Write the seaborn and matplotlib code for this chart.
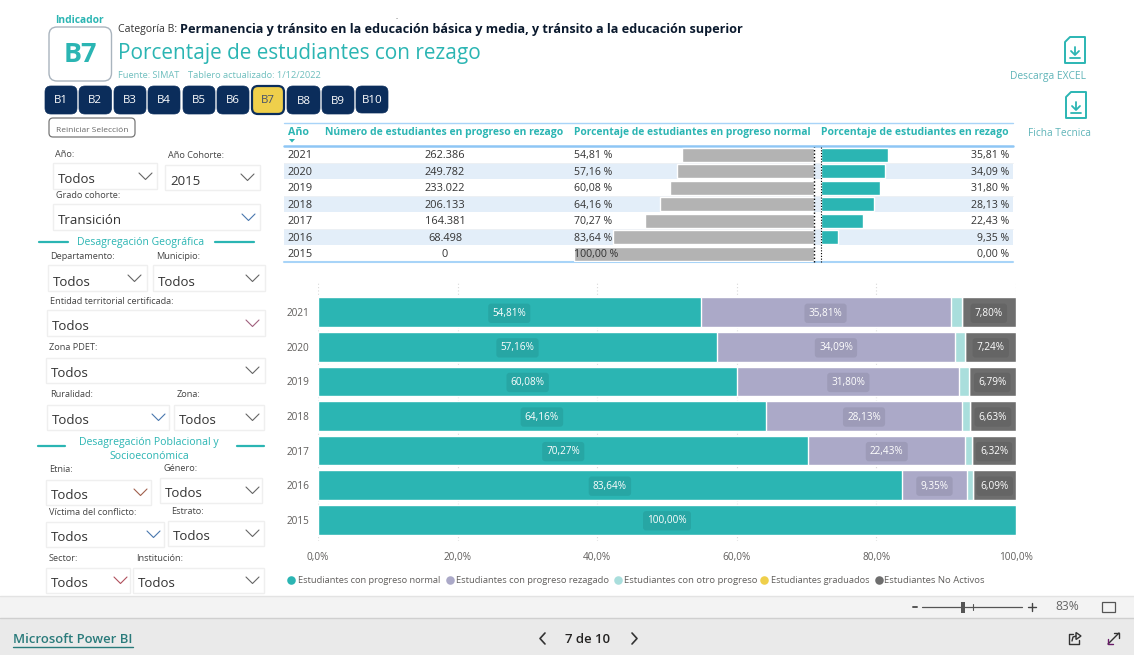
import matplotlib
matplotlib.use("Agg")
import matplotlib.pyplot as plt
from matplotlib.patches import FancyBboxPatch, Rectangle, Polygon
from matplotlib.ticker import FuncFormatter
import seaborn as sns
import pandas as pd

W, H = 1134, 655

# ---------- data ----------
years = ["2021", "2020", "2019", "2018", "2017", "2016", "2015"]
normal = [54.81, 57.16, 60.08, 64.16, 70.27, 83.64, 100.0]
rezago = [35.81, 34.09, 31.80, 28.13, 22.43, 9.35, 0.0]
otro = [1.58, 1.51, 1.33, 1.08, 0.98, 0.92, 0.0]
graduados = [0.0, 0.0, 0.0, 0.0, 0.0, 0.0, 0.0]
no_activos = [7.80, 7.24, 6.79, 6.63, 6.32, 6.09, 0.0]
num_rezago = [262386, 249782, 233022, 206133, 164381, 68498, 0]
series_names = ["Estudiantes con progreso normal", "Estudiantes con progreso rezagado",
                "Estudiantes con otro progreso", "Estudiantes graduados", "Estudiantes No Activos"]
series_values = [normal, rezago, otro, graduados, no_activos]
series_colors = ["#2BB5B3", "#ABA9C8", "#A9DEDC", "#EFCF4B", "#6E6E6E"]
labelled = [True, True, False, False, True]
buttons = ["B1", "B2", "B3", "B4", "B5", "B6", "B7", "B8", "B9", "B10"]

TEAL = "#2BB5B3"
NAVY = "#0B2D5B"
GREY = "#605E5C"
DARK = "#333333"

sns.set_theme(style="white")
plt.rcParams["font.family"] = ["Open Sans", "DejaVu Sans"]

fig = plt.figure(figsize=(W / 100, H / 100), dpi=100, facecolor="white")


def px_axes(x0, y0, x1, y1, **kw):
    return fig.add_axes([x0 / W, 1 - y1 / H, (x1 - x0) / W, (y1 - y0) / H], **kw)


bg = fig.add_axes([0, 0, 1, 1])
bg.set_xlim(0, W)
bg.set_ylim(H, 0)
bg.axis("off")
renderer = fig.canvas.get_renderer()


def T(x, y, s, px=11, color=DARK, weight="normal", ha="left", w=None, **kw):
    t = bg.text(x, y + 1.2, s, fontsize=px * 0.72, color=color, fontweight=weight,
                ha=ha, va="center", **kw)
    if w is not None:
        cur = t.get_window_extent(renderer).width
        t.set_fontsize(t.get_fontsize() * w / cur)
    return t


def rbox(x0, y0, x1, y1, r=3, fc="white", ec="none", lw=1.0, z=2):
    bg.add_patch(FancyBboxPatch((x0 + r, y0 + r), x1 - x0 - 2 * r, y1 - y0 - 2 * r,
                                boxstyle=f"round,pad={r},rounding_size={r}",
                                fc=fc, ec=ec, lw=lw, zorder=z))


def chevron(x0, x1, y, color="#666666"):
    xm = (x0 + x1) / 2
    bg.plot([x0, xm, x1], [y - 3, y + 3.5, y - 3], color=color, lw=0.8, zorder=3)


# ---------- header ----------
T(55, 19, "Indicador", 11, TEAL, "bold", w=49)
rbox(49, 27, 111.5, 81, r=8, ec="#A9B4BE", lw=1.0)
T(80, 54, "B7", 27, TEAL, "bold", ha="center")
T(117.5, 28.5, "Categoría B:", 12, "#333333", w=59)
T(179.5, 28.5, "Permanencia y tránsito en la educación básica y media, y tránsito a la educación superior",
  12, "#0B1A2E", "bold", w=562)
T(117.5, 52.5, "Porcentaje de estudiantes con rezago", 22, TEAL, w=363)
T(117.5, 74, "Fuente: SIMAT", 9, "#6FBFBE", w=62)
T(188, 74, "Tablero actualizado: 1/12/2022", 9, "#6FBFBE", w=134)
T(397, 16, "..", 6, "#555555", ha="center")

btn_x = [(45, 77), (79, 111.5), (114, 146), (148, 180), (183, 215),
         (217, 249), (252, 284), (287, 320), (322, 354), (356, 388)]
for name, (a, b) in zip(buttons, btn_x):
    active = name == "B7"
    y1 = 113 if name == "B10" else 114
    rbox(a, 86, b, y1, r=6, fc="#EFCF4B" if active else NAVY, ec=NAVY, lw=1.6 if active else 0.5)
    T((a + b) / 2, 100.5 if name in ("B8", "B9") else 99.5, name, 11.5,
      "#44506A" if active else "white", ha="center", zorder=5)

rbox(49, 118, 135, 137, r=4, ec="#777777", lw=0.9)
T(92, 129, "Reiniciar Selección", 9, "#666666", ha="center", w=71, zorder=5)

# ---------- slicers ----------
# label, lx, ly, box x0, y0, x1, y1, text, text y, chev x0, chev y, chev colour
slicers = [
    ("Año:", 55, 153, 52.5, 163, 157, 189, "Todos", 178, 139, 176, "#666666"),
    ("Año Cohorte:", 168, 154, 165, 165, 260, 190, "2015", 180, 241, 177, "#666666"),
    ("Grado cohorte:", 56, 194, 53, 204, 260, 230, "Transición", 219, 242, 217, "#4A78AE"),
    ("Departamento:", 50, 255, 47.5, 265, 146.5, 291, "Todos", 281, 128, 278, "#666666"),
    ("Municipio:", 156, 255, 153, 265, 265, 291, "Todos", 281, 246, 278, "#666666"),
    ("Entidad territorial certificada:", 50, 300, 47, 310, 265, 336, "Todos", 325, 246, 323, "#A0607D"),
    ("Zona PDET:", 49, 346.5, 46, 358, 265, 383, "Todos", 372, 246, 370, "#666666"),
    ("Ruralidad:", 50, 393.5, 47, 405, 169, 430, "Todos", 419, 152, 417, "#4A78AE"),
    ("Zona:", 177, 393.5, 174, 405, 264, 430, "Todos", 419, 246, 417, "#666666"),
    ("Etnia:", 49, 468.5, 46, 480, 151, 505, "Todos", 494, 134, 492, "#A0604D"),
    ("Género:", 163, 467, 160, 478, 262, 503, "Todos", 492, 246, 490, "#666666"),
    ("Víctima del conflicto:", 49, 511, 46, 522, 164, 547, "Todos", 536, 147, 534, "#4A78AE"),
    ("Estrato:", 171, 510, 168, 521, 264, 546, "Todos", 535, 246, 533, "#666666"),
    ("Sector:", 49, 557, 46, 568, 130, 593, "Todos", 582, 114, 580, "#B0505D"),
    ("Institución:", 136, 557, 133, 568, 264, 593, "Todos", 582, 246, 580, "#666666"),
]
for lab, lx, ly, x0, y0, x1, y1, txt, ty, cx, cy, cc in slicers:
    T(lx, ly, lab, 9.2, "#444444")
    bg.add_patch(Rectangle((x0, y0), x1 - x0, y1 - y0, fc="white", ec="#EFEFEF", lw=1.0))
    T(x0 + 5, ty, txt, 13.2, "#333333")
    chevron(cx, cx + 13, cy, cc)

T(140.5, 241, "Desagregación Geográfica", 11, TEAL, ha="center", w=127)
T(149, 441, "Desagregación Poblacional y", 11, TEAL, ha="center", w=140)
T(149, 455, "Socioeconómica", 11, TEAL, ha="center", w=80)
for a, b, y in [(39, 68, 241.5), (215, 254, 241.5), (38, 65, 445.5), (237, 264, 445.5)]:
    bg.plot([a, b], [y, y], color=TEAL, lw=1.6)

# ---------- table ----------
ROW0, ROWH = 146.5, 16.5
for i in (1, 3, 5):
    bg.add_patch(Rectangle((284, ROW0 + i * ROWH), 729, ROWH - 0.8, fc="#E3EEF9", ec="none", zorder=0))
for i in (0, 2, 4):
    bg.plot([284, 1013], [ROW0 + (i + 1) * ROWH - 0.4] * 2, color="#EEF1F4", lw=0.6, zorder=0)
bg.plot([284, 1013], [122.5, 122.5], color="#A8D4F8", lw=1.0)
bg.plot([284, 1013], [145.5, 145.5], color="#8EC6F5", lw=1.8)
bg.plot([284, 1013], [262, 262], color="#A8D4F8", lw=1.5)

T(288, 131, "Año", 11, TEAL, "bold", w=21)
T(325, 131, "Número de estudiantes en progreso en rezago", 11, TEAL, "bold", w=239)
T(574, 131, "Porcentaje de estudiantes en progreso normal", 11, TEAL, "bold", w=238)
T(821, 131, "Porcentaje de estudiantes en rezago", 11, TEAL, "bold", w=187)
bg.add_patch(Polygon([[289, 139], [295, 139], [292, 142.5]], fc=TEAL, ec="none"))


def fmt(v):
    return f"{v:.2f}".replace(".", ",") + " %"


table = pd.DataFrame({"year": years, "normal": normal, "rezago": rezago})

ax_g = px_axes(574, ROW0, 814, ROW0 + 7 * ROWH)
ax_g.patch.set_alpha(0)
sns.barplot(table, x="normal", y="year", order=years, orient="y", color="#B3B3B3",
            saturation=1, width=0.85, ax=ax_g)
ax_g.set_xlim(100, 0)
ax_g.axvline(0, color="black", lw=1.0, ls=(0, (1, 1.5)), clip_on=False)

ax_t = px_axes(821, ROW0, 1008, ROW0 + 7 * ROWH)
ax_t.patch.set_alpha(0)
sns.barplot(table, x="rezago", y="year", order=years, orient="y", color=TEAL,
            saturation=1, width=0.85, ax=ax_t)
ax_t.set_xlim(0, 100)
ax_t.axvline(0, color="black", lw=0.8, ls=(0, (1, 1.5)), clip_on=False)

for ax in (ax_g, ax_t):
    ax.axis("off")

for i, y in enumerate(years):
    yy = ROW0 + (i + 0.5) * ROWH
    T(288, yy, y, 11, DARK)
    T(445, yy, f"{num_rezago[i]:,}".replace(",", "."), 11, DARK, ha="center")
    ax_g.text(100, i + 0.06, fmt(normal[i]), fontsize=7.6, color=DARK,
              ha="left", va="center", zorder=5)
    ax_t.text(100.5, i + 0.06, fmt(rezago[i]), fontsize=7.6, color=DARK, ha="right", va="center",
              zorder=5, clip_on=False)

# ---------- stacked bars ----------
ax = px_axes(318, 283, 1016, 541)
ax.patch.set_alpha(0)
cum = []
run = [0.0] * len(years)
for vals in series_values:
    run = [a + b for a, b in zip(run, vals)]
    cum.append(list(run))
for name, c, col in reversed(list(zip(series_names, cum, series_colors))):
    d = pd.DataFrame({"year": years, "v": c})
    sns.barplot(d, x="v", y="year", order=years, orient="y", color=col, saturation=1,
                width=0.86, ax=ax, zorder=3)
BAND = 34.7
ax.set_xlim(0, 100)
ax.set_ylim(6.5 + 4 / BAND, -0.5 - 12 / BAND)
ax.set_xticks([0, 20, 40, 60, 80, 100])
ax.xaxis.set_major_formatter(FuncFormatter(lambda v, _: f"{v:.1f}".replace(".", ",") + "%"))
ax.grid(axis="x", color="#D9D9D9", lw=0.8, ls=(0, (1, 2)), zorder=0)
ax.grid(axis="y", visible=False)
ax.set_axisbelow(True)
ax.set_xlabel("")
ax.set_ylabel("")
ax.tick_params(axis="both", length=0, labelsize=7.2, labelcolor=GREY)
ax.tick_params(axis="x", pad=8)
ax.tick_params(axis="y", pad=6)
for s in ax.spines.values():
    s.set_visible(False)

for vals, c, show in zip(series_values, cum, labelled):
    if not show:
        continue
    for i, (v, top) in enumerate(zip(vals, c)):
        if v <= 0:
            continue
        ax.text(top - v / 2, i + 0.03, f"{v:.2f}".replace(".", ",") + "%", color="white", fontsize=7.2,
                ha="center", va="center", zorder=6,
                bbox=dict(boxstyle="round,pad=0.42,rounding_size=0.3", fc="#000000", alpha=0.08, ec="none"))

# ---------- legend ----------
leg = [(291, 298, 143), (450, 456, 154), (618, 624, 133), (764, 771, 99), (879, 884, 100)]
for (dx, tx, tw), name, col in zip(leg, series_names, series_colors):
    bg.scatter([dx], [580], s=38, color=col, linewidths=0)
    T(tx, 579.5, name, 9.5, GREY, w=tw)

# ---------- download icons ----------
for x0, y0, x1, y1 in [(1065, 37, 1085, 63), (1066, 92, 1086, 118)]:
    bg.add_patch(Polygon([[x0 + 5, y0], [x1, y0], [x1, y1], [x0, y1], [x0, y0 + 5]],
                         closed=True, fc="white", ec=TEAL, lw=1.4, joinstyle="round"))
    cx = (x0 + x1) / 2
    bg.plot([cx, cx], [y0 + 10, y0 + 17], color=TEAL, lw=1.3)
    bg.plot([cx - 4, cx, cx + 4], [y0 + 14, y0 + 18, y0 + 14], color=TEAL, lw=1.3)
    bg.plot([cx - 5, cx + 5], [y0 + 21, y0 + 21], color=TEAL, lw=1.3)
T(1048, 75.5, "Descarga EXCEL", 10.5, "#5FB4B8", ha="center", w=76)
T(1059.5, 132.5, "Ficha Tecnica", 10.5, "#5FB4B8", ha="center", w=63)

# ---------- Power BI chrome ----------
bg.add_patch(Rectangle((0, 596), W, 22, fc="#F3F3F3", ec="none", zorder=1))
bg.add_patch(Rectangle((0, 618), W, 37, fc="#EAEAEA", ec="none", zorder=1))
bg.plot([0, W], [596, 596], color="#E3E3E3", lw=1, zorder=2)
bg.plot([0, W], [618, 618], color="#CFCFCF", lw=1, zorder=2)

bg.plot([913, 917], [606.5, 606.5], color="#555555", lw=1.4, zorder=3)
bg.plot([922, 1022], [606.5, 606.5], color="#555555", lw=0.9, zorder=3)
bg.plot([972.5, 972.5], [603.5, 609.5], color="#555555", lw=0.8, zorder=3)
bg.add_patch(Rectangle((961, 601.5), 4, 11, fc="#555555", ec="none", zorder=4))
bg.plot([1027.5, 1035.5], [606.5, 606.5], color="#444444", lw=1, zorder=3)
bg.plot([1031.5, 1031.5], [602.5, 610.5], color="#444444", lw=1, zorder=3)
T(1067, 605.5, "83%", 12, "#666666", ha="center", zorder=4)
bg.add_patch(Rectangle((1101.5, 601.5), 13, 10, fc="none", ec="#555555", lw=0.9, zorder=4))

t = T(13, 638.5, "Microsoft Power BI", 14, "#2A7B7B", "semibold", w=120, zorder=4)
bg.plot([13, 133], [646.5, 646.5], color="#2A7B7B", lw=1, zorder=4)
T(588, 638, "7 de 10", 13, "#252423", "semibold", ha="center", w=45, zorder=4)
bg.plot([545, 540, 545], [633, 638.5, 644], color="#333333", lw=1.2, zorder=4)
bg.plot([632, 637, 632], [633, 638.5, 644], color="#333333", lw=1.2, zorder=4)

# share icon
bg.plot([1073, 1069, 1069, 1079, 1079], [634, 634, 644, 644, 640], color="#333333", lw=1.0, zorder=4)
bg.plot([1072, 1073, 1076], [641, 637, 636], color="#333333", lw=1.0, zorder=4)
bg.add_patch(Polygon([[1076, 632.5], [1081, 636], [1076, 639.5]], closed=True, fc="none",
                     ec="#333333", lw=1.0, zorder=4))
# expand icon
bg.plot([1108, 1119], [644, 633], color="#333333", lw=1.0, zorder=4)
bg.plot([1114, 1119, 1119], [633, 633, 638], color="#333333", lw=1.0, zorder=4)
bg.plot([1108, 1108, 1113], [639, 644, 644], color="#6A1B6A", lw=1.0, zorder=4)

fig.savefig("out.png", dpi=100, facecolor="white")
